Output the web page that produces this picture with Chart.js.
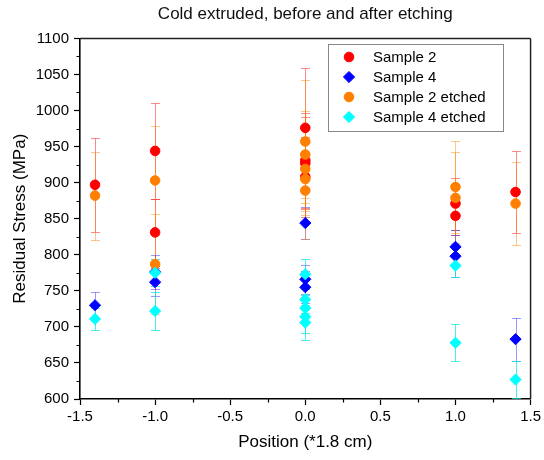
<!DOCTYPE html>
<html><head><meta charset="utf-8">
<script src="https://cdn.jsdelivr.net/npm/chart.js@4.4.1/dist/chart.umd.min.js"></script>
<style>html,body{margin:0;padding:0;background:#fff}#wrap{width:544px;height:460px}</style>
</head><body><div id="wrap"><canvas id="c" width="544" height="460"></canvas></div>
<script>
// ---- data ----
const chartTitle = 'Cold extruded, before and after etching';
const xTitle = 'Position (*1.8 cm)';
const yTitle = 'Residual Stress (MPa)';
const seriesLabels = ['Sample 2', 'Sample 4', 'Sample 2 etched', 'Sample 4 etched'];

const s2X   = [-1.4, -1.0, -1.0, 0, 0, 0, 0, 1.0, 1.0, 1.4];
const s2Y   = [897, 944, 831, 976, 931, 927, 908, 871, 854, 887];
const s2Err = [65, 67, 46, 83, 66, 64, 55, 36, 26, 57];

const s4X   = [-1.4, -1.0, -1.0, 0, 0, 0, 1.0, 1.0, 1.4];
const s4Y   = [730, 776, 762, 844, 766, 755, 811, 798, 683];
const s4Err = [18, 23, 19, 22, 20, 22, 24, 29, 30];

const s2eX   = [-1.4, -1.0, -1.0, 0, 0, 0, 0, 0, 1.0, 1.0, 1.4];
const s2eY   = [882, 903, 787, 957, 939, 919, 905, 889, 894, 879, 871];
const s2eErr = [61, 76, 69, 85, 60, 58, 50, 67, 64, 63, 58];

const s4eX   = [-1.4, -1.0, -1.0, 0, 0, 0, 0, 0, 1.0, 1.0, 1.4];
const s4eY   = [711, 775, 722, 773, 738, 726, 714, 706, 785, 678, 627];
const s4eErr = [15, 19, 26, 21, 19, 18, 23, 24, 16, 26, 25];

const xTicks = [-1.5, -1.0, -0.5, 0, 0.5, 1.0, 1.5];
const xMinor = [-1.25, -0.75, -0.25, 0.25, 0.75, 1.25];
const yTicks = [600, 650, 700, 750, 800, 850, 900, 950, 1000, 1050, 1100];
const yMinor = [625, 675, 725, 775, 825, 875, 925, 975, 1025, 1075];

// ---- helpers ----
function pts(xs, ys, es) { return xs.map((x, i) => ({x: x, y: ys[i], e: es[i]})); }
const FONT = '"Liberation Sans", Arial, Helvetica, sans-serif';
Chart.defaults.font.family = FONT;
Chart.defaults.color = '#000';

const errorBars = {
  id: 'errorBars',
  beforeDatasetsDraw(chart) {
    const ctx = chart.ctx, x = chart.scales.x, y = chart.scales.y;
    ctx.save();
    ctx.lineWidth = 1;
    chart.data.datasets.forEach(ds => {
      ctx.strokeStyle = ds.errColor;
      ds.data.forEach(p => {
        const px = Math.round(x.getPixelForValue(p.x)) + 0.5;
        const t = Math.round(y.getPixelForValue(p.y + p.e)) + 0.5;
        const b = Math.round(y.getPixelForValue(p.y - p.e)) + 0.5;
        ctx.beginPath();
        ctx.moveTo(px, t); ctx.lineTo(px, b);
        ctx.moveTo(px - 4.5, t); ctx.lineTo(px + 4.5, t);
        ctx.moveTo(px - 4.5, b); ctx.lineTo(px + 4.5, b);
        ctx.stroke();
      });
    });
    ctx.restore();
  }
};

const frameAndMinor = {
  id: 'frameAndMinor',
  afterDraw(chart) {
    const ctx = chart.ctx, a = chart.chartArea, x = chart.scales.x, y = chart.scales.y;
    ctx.save();
    ctx.strokeStyle = '#222';
    ctx.lineWidth = 1.5;
    ctx.beginPath();
    ctx.moveTo(a.left, a.top); ctx.lineTo(a.right, a.top);
    ctx.moveTo(a.right, a.top); ctx.lineTo(a.right, a.bottom);
    ctx.stroke();
    ctx.strokeStyle = '#000';
    ctx.lineWidth = 1.2;
    ctx.beginPath();
    yMinor.forEach(v => {
      const py = Math.round(y.getPixelForValue(v)) + 0.5;
      ctx.moveTo(a.left - 3.5, py); ctx.lineTo(a.left, py);
    });
    xMinor.forEach(v => {
      const px = Math.round(x.getPixelForValue(v)) + 0.5;
      ctx.moveTo(px, a.bottom); ctx.lineTo(px, a.bottom + 3.5);
    });
    ctx.stroke();
    ctx.restore();
  }
};

const legendBox = {
  id: 'legendBox',
  afterDraw(chart) {
    const ctx = chart.ctx;
    const L = 328, T = 44, W = 175, H = 87;
    ctx.save();
    ctx.fillStyle = '#fff';
    ctx.fillRect(L, T, W, H);
    ctx.strokeStyle = '#888';
    ctx.lineWidth = 1;
    ctx.strokeRect(L + 0.5, T + 0.5, W, H);
    ctx.font = '15px ' + FONT;
    ctx.textBaseline = 'middle';
    chart.data.datasets.forEach((ds, i) => {
      const cy = T + 13 + i * 20;
      ctx.fillStyle = ds.backgroundColor;
      ctx.strokeStyle = ds.borderColor;
      Chart.helpers.drawPoint(ctx, {pointStyle: ds.pointStyle, radius: ds.pointRadius, borderWidth: 1, rotation: 0}, L + 21, cy);
      ctx.fillStyle = '#000';
      ctx.fillText(ds.label, L + 45, cy + 1);
    });
    ctx.restore();
  }
};

function mk(label, data, color, errColor, style, r, order) {
  return {
    label: label, data: data, backgroundColor: color, borderColor: color,
    pointStyle: style, pointRadius: r, pointHoverRadius: r, pointBorderWidth: 1,
    errColor: errColor, showLine: false, order: order
  };
}

new Chart(document.getElementById('c'), {
  type: 'scatter',
  data: {
    datasets: [
      mk(seriesLabels[0], pts(s2X, s2Y, s2Err), '#FF0000', 'rgba(255,0,0,0.45)', 'circle', 4.8, 4),
      mk(seriesLabels[1], pts(s4X, s4Y, s4Err), '#0000FF', 'rgba(0,0,255,0.4)', 'rectRot', 5.6, 3),
      mk(seriesLabels[2], pts(s2eX, s2eY, s2eErr), '#FF8000', 'rgba(255,128,0,0.45)', 'circle', 4.8, 2),
      mk(seriesLabels[3], pts(s4eX, s4eY, s4eErr), '#00FFFF', 'rgba(0,230,230,0.7)', 'rectRot', 5.6, 1)
    ]
  },
  options: {
    responsive: false,
    animation: false,
    events: [],
    layout: {padding: {top: 0, right: 12, left: 0, bottom: 0}},
    plugins: {
      legend: {display: false},
      tooltip: {enabled: false},
      title: {
        display: true, text: chartTitle, fullSize: false,
        font: {size: 17, weight: 'normal'}, color: '#111',
        padding: {top: 4, bottom: 14}
      }
    },
    scales: {
      x: {
        type: 'linear', min: -1.5, max: 1.5,
        afterBuildTicks: s => { s.ticks = xTicks.map(v => ({value: v})); },
        afterFit: s => { s.height = 61; },
        ticks: {font: {size: 15}, color: '#000', padding: 3, maxRotation: 0,
                callback: v => Number(v).toFixed(1)},
        grid: {drawOnChartArea: false, drawTicks: true, tickLength: 6, tickColor: '#000', tickWidth: 1.2},
        border: {display: true, color: '#000', width: 1.6},
        title: {display: true, text: xTitle, font: {size: 17}, color: '#000', padding: {top: 0, bottom: 7}}
      },
      y: {
        type: 'linear', min: 600, max: 1100,
        afterBuildTicks: s => { s.ticks = yTicks.map(v => ({value: v})); },
        afterFit: s => { s.width = 80; },
        ticks: {font: {size: 15}, color: '#000', padding: 5, callback: v => String(v)},
        grid: {drawOnChartArea: false, drawTicks: true, tickLength: 6, tickColor: '#000', tickWidth: 1.2},
        border: {display: true, color: '#000', width: 1.6},
        title: {display: true, text: yTitle, font: {size: 17}, color: '#000', padding: {top: 10, bottom: 0}}
      }
    }
  },
  plugins: [errorBars, frameAndMinor, legendBox]
});
</script>
</body></html>
